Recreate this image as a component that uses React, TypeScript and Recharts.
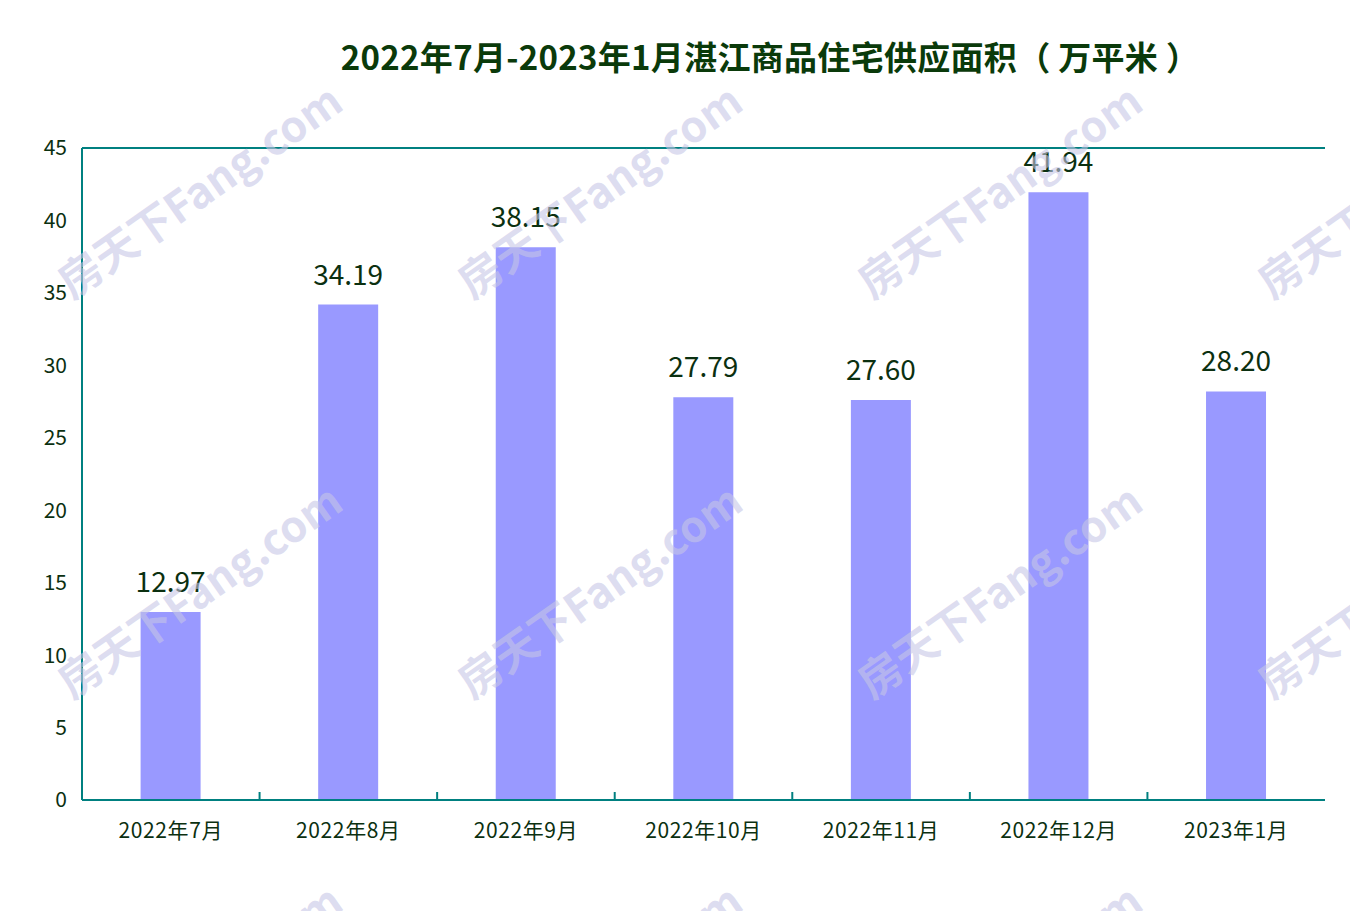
import React from "react";
import { BarChart, Bar, XAxis, YAxis, CartesianGrid, LabelList } from "recharts";

const categories = ["2022年7月", "2022年8月", "2022年9月", "2022年10月", "2022年11月", "2022年12月", "2023年1月"];
const supplyArea = [12.97, 34.19, 38.15, 27.79, 27.6, 41.94, 28.2];
const yTicks = [0, 5, 10, 15, 20, 25, 30, 35, 40, 45];
const titleText = "2022年7月-2023年1月湛江商品住宅供应面积（ 万平米 ）";
const watermarkText = "房天下Fang.com";

const data = categories.map((c, i) => ({ name: c, value: supplyArea[i] }));

const W = 1350;
const H = 911;
const TEAL = "#008080";
const TEXT = "#0b3010";
const FONT = "'Noto Sans CJK SC', 'Noto Sans', sans-serif";

const XTick = (props: any) => {
  const { x, payload, index } = props;
  const band = (1325 - 82) / categories.length;
  const axisY = 800;
  return (
    <g>
      {index < categories.length - 1 && (
        <line x1={x + band / 2} x2={x + band / 2} y1={axisY} y2={axisY - 8} stroke={TEAL} strokeWidth={2} />
      )}
      <text x={x} y={axisY + 38} textAnchor="middle" fontSize={21} letterSpacing={0.6} fill={TEXT} fontFamily={FONT}>
        {payload.value}
      </text>
    </g>
  );
};

const Watermarks = () => {
  const items: React.ReactNode[] = [];
  const xs = [72, 472, 872, 1272];
  const ys = [300, 700, 1100];
  xs.forEach((x) =>
    ys.forEach((y) => {
      items.push(
        <text
          key={`${x}-${y}`}
          x={x}
          y={y}
          transform={`rotate(-35 ${x} ${y})`}
          fontSize={43}
          fontWeight="bold"
          fill="#c6c6e6"
          fillOpacity={0.6}
          fontFamily={FONT}
        >
          {watermarkText}
        </text>
      );
    })
  );
  return (
    <svg width={W} height={H} style={{ position: "absolute", left: 0, top: 0, pointerEvents: "none" }}>
      {items}
    </svg>
  );
};

export default function App() {
  return (
    <div style={{ position: "absolute", left: 0, top: 0, width: W, height: H, background: "#fff", fontFamily: FONT }}>
      <div
        style={{
          position: "absolute",
          left: 0,
          top: 34,
          width: W,
          paddingLeft: 190,
          boxSizing: "border-box",
          textAlign: "center",
          fontSize: 33,
          fontWeight: "bold",
          color: "#0a3a0a",
          lineHeight: "44px",
          letterSpacing: 0.3,
        }}
      >
        {titleText}
      </div>
      <BarChart
        width={W}
        height={H}
        data={data}
        margin={{ top: 148, right: 25, bottom: 71, left: 0 }}
        barCategoryGap="33%"
        style={{ position: "absolute", left: 0, top: 0 }}
      >
        <CartesianGrid vertical={false} stroke={TEAL} strokeWidth={2} strokeDasharray="" />
        <XAxis
          dataKey="name"
          height={40}
          axisLine={{ stroke: TEAL, strokeWidth: 2 }}
          tickLine={false}
          tick={<XTick />}
          interval={0}
        />
        <YAxis
          yAxisId="left"
          width={82}
          domain={[0, 45]}
          ticks={yTicks}
          interval={0}
          axisLine={{ stroke: TEAL, strokeWidth: 2 }}
          tickLine={false}
          tickMargin={9}
          tick={{ fontSize: 21, fill: TEXT, fontFamily: FONT }}
        />
        <YAxis
          yAxisId="right"
          orientation="right"
          width={0}
          domain={[0, 45]}
          tick={false}
          tickLine={false}
          axisLine={{ stroke: TEAL, strokeWidth: 2 }}
        />
        <Bar yAxisId="left" dataKey="value" fill="#9999ff" isAnimationActive={false}>
          <LabelList
            dataKey="value"
            position="top"
            offset={20}
            fontSize={28}
            fill={TEXT}
            fontFamily={FONT}
            formatter={(v: any) => Number(v).toFixed(2)}
          />
        </Bar>
      </BarChart>
      <Watermarks />
    </div>
  );
}
